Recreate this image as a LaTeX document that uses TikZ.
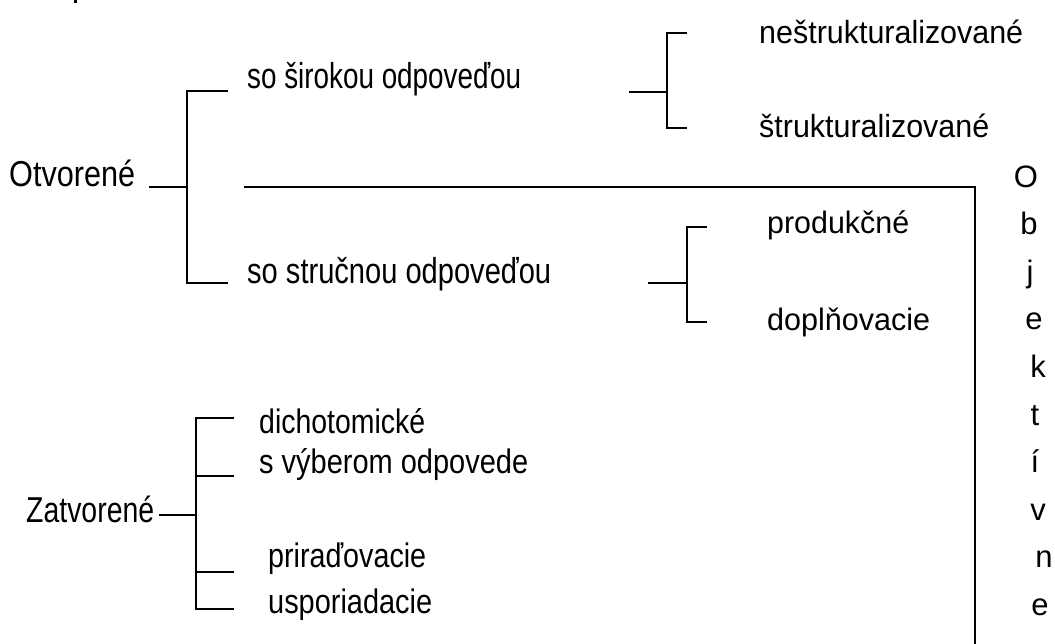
\documentclass[tikz,border=0pt]{standalone}
\usepackage{fontspec}
\usepackage{graphicx}
\setmainfont{Liberation Sans}
\newcommand{\tx}[3]{\resizebox{#1pt}{\height}{\fontsize{#2}{#2}\selectfont #3}}
\begin{document}
\begin{tikzpicture}[x=1pt,y=-1pt,
  lbl/.style={anchor=base west,inner sep=0pt},
  ltr/.style={anchor=base,inner sep=0pt,font=\fontsize{31}{36}\selectfont},
  ln/.style={line width=1.8pt,line cap=rect}]
\useasboundingbox (0,0) rectangle (1055,643);
% tiny fragment at top edge
\fill (73.5,0) rectangle (77,3);
% texts
\node[lbl] (otv) at (9,186) {\tx{126}{36}{Otvorené}};
\node[lbl] (sir) at (247,88) {\tx{274}{36}{so širokou odpoveďou}};
\node[lbl] (str) at (247,283) {\tx{304}{36}{so stručnou odpoveďou}};
\node[lbl] (nes) at (759,43) {\tx{264}{32}{neštrukturalizované}};
\node[lbl] (sst) at (759,137) {\tx{230}{32}{štrukturalizované}};
\node[lbl] (pro) at (767,233) {\tx{142}{31}{produkčné}};
\node[lbl] (dop) at (767,330) {\tx{163}{31}{doplňovacie}};
\node[lbl] (zat) at (26,522) {\tx{128}{36}{Zatvorené}};
\node[lbl] (dic) at (259,433) {\tx{166}{34}{dichotomické}};
\node[lbl] (vyb) at (259,473) {\tx{269}{34}{s výberom odpovede}};
\node[lbl] (pri) at (268,567) {\tx{158}{34}{priraďovacie}};
\node[lbl] (usp) at (268,613) {\tx{164}{34}{usporiadacie}};
% vertical word
\node[ltr] (l1) at (1026,187) {O};
\node[ltr] (l2) at (1029,234.6) {b};
\node[ltr] (l3) at (1030,282.2) {j};
\node[ltr] (l4) at (1034,329.8) {e};
\node[ltr] (l5) at (1038,377.4) {k};
\node[ltr] (l6) at (1035,425) {t};
\node[ltr] (l7) at (1035,472.6) {í};
\node[ltr] (l8) at (1038,520.2) {v};
\node[ltr] (l9) at (1044,567.8) {n};
\node[ltr] (l10) at (1040,615.4) {e};
% coordinates
\coordinate (o0) at (150,187);
\coordinate (o1) at (187,187);
\coordinate (oT) at (187,91);
\coordinate (oB) at (187,283);
\coordinate (oTe) at (227,91);
\coordinate (oBe) at (227,283);
\coordinate (b0) at (245,187);
\coordinate (b1) at (975,187);
\coordinate (b2) at (975,643);
\coordinate (r0) at (630,92);
\coordinate (r1) at (667,92);
\coordinate (rT) at (667,33);
\coordinate (rB) at (667,128);
\coordinate (rTe) at (686,33);
\coordinate (rBe) at (686,128);
\coordinate (s0) at (649,283);
\coordinate (s1) at (687,283);
\coordinate (sT) at (687,227);
\coordinate (sB) at (687,322);
\coordinate (sTe) at (706,227);
\coordinate (sBe) at (706,322);
\coordinate (z0) at (160,515);
\coordinate (z1) at (196,515);
\coordinate (zT) at (196,418);
\coordinate (zB) at (196,609);
\coordinate (zA) at (196,476);
\coordinate (zC) at (196,572);
\coordinate (zTe) at (233,418);
\coordinate (zAe) at (233,476);
\coordinate (zCe) at (233,572);
\coordinate (zBe) at (233,609);
% connectors
\draw[ln] (o0) -- (o1);
\draw[ln] (oTe) -- (oT) -- (oB) -- (oBe);
\draw[ln] (b0) -- (b1) -- (b2);
\draw[ln] (r0) -- (r1);
\draw[ln] (rTe) -- (rT) -- (rB) -- (rBe);
\draw[ln] (s0) -- (s1);
\draw[ln] (sTe) -- (sT) -- (sB) -- (sBe);
\draw[ln] (z0) -- (z1);
\draw[ln] (zTe) -- (zT) -- (zB) -- (zBe);
\draw[ln] (zA) -- (zAe);
\draw[ln] (zC) -- (zCe);
\end{tikzpicture}
\end{document}
